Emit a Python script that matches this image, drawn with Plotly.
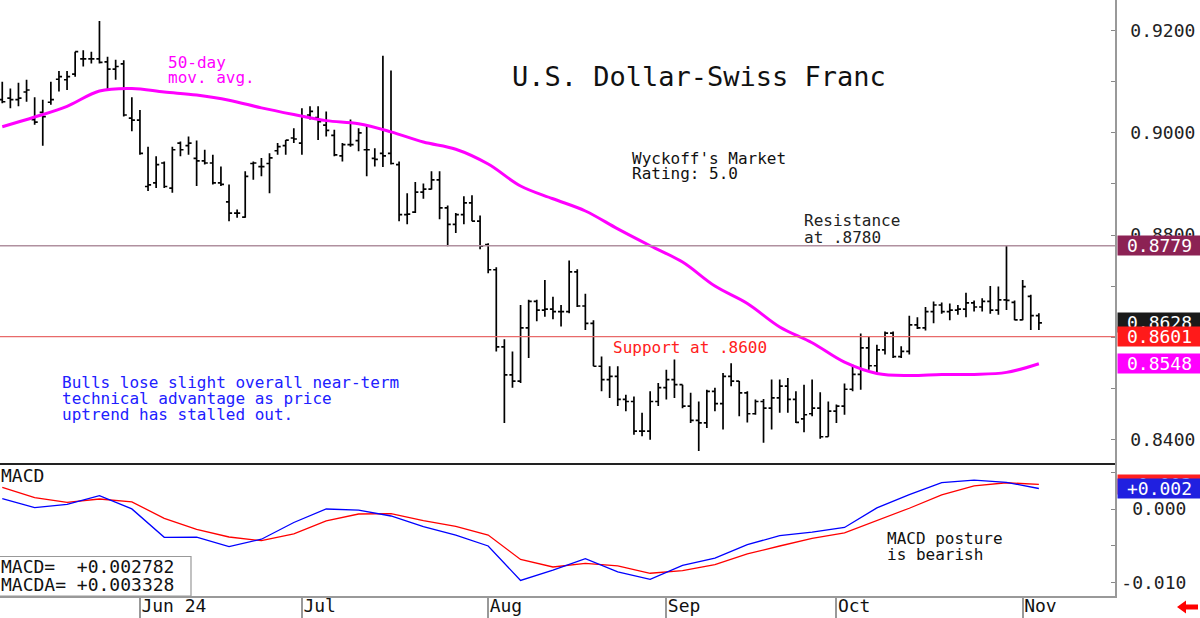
import plotly.graph_objects as go
import pandas as pd
import math

MONO = "DejaVu Sans Mono"

# ---------------- data ----------------
dates = pd.bdate_range("2024-05-09", periods=129)

opens = [0.9065, 0.9068, 0.9065, 0.9080, 0.9026, 0.9040, 0.9060, 0.9105, 0.9104, 0.9115,
         0.9145, 0.9145, 0.9145, 0.9139, 0.9125, 0.9135, 0.9029, 0.9025, 0.8895, 0.8902,
         0.8941, 0.8892, 0.8980, 0.8975, 0.8950, 0.8945, 0.8941, 0.8902, 0.8865, 0.8843,
         0.8835, 0.8940, 0.8934, 0.8940, 0.8965, 0.8975, 0.8990, 0.8980, 0.9035, 0.9030,
         0.9015, 0.8995, 0.8955, 0.8977, 0.8985, 0.8967, 0.8950, 0.8960, 0.8960, 0.8938,
         0.8840, 0.8845, 0.8884, 0.8890, 0.8908, 0.8853, 0.8821, 0.8840, 0.8863, 0.8827,
         0.8781, 0.8732, 0.8581, 0.8526, 0.8514, 0.8618, 0.8670, 0.8653, 0.8655, 0.8650,
         0.8650, 0.8728, 0.8661, 0.8627, 0.8543, 0.8517, 0.8523, 0.8478, 0.8474, 0.8416,
         0.8416, 0.8474, 0.8501, 0.8517, 0.8507, 0.8465, 0.8437, 0.8432, 0.8494, 0.8470,
         0.8523, 0.8514, 0.8491, 0.8450, 0.8474, 0.8461, 0.8481, 0.8504, 0.8478, 0.8440,
         0.8450, 0.8461, 0.8405, 0.8455, 0.8465, 0.8498, 0.8527, 0.8579, 0.8544, 0.8575,
         0.8608, 0.8562, 0.8572, 0.8624, 0.8618, 0.8650, 0.8663, 0.8650, 0.8653, 0.8655,
         0.8667, 0.8659, 0.8670, 0.8653, 0.8673, 0.8668, 0.8634, 0.8680, 0.8642]
highs = [0.9100, 0.9087, 0.9098, 0.9104, 0.9070, 0.9065, 0.9100, 0.9121, 0.9121, 0.9159,
         0.9162, 0.9159, 0.9219, 0.9149, 0.9143, 0.9142, 0.9070, 0.9045, 0.8973, 0.8954,
         0.8944, 0.8973, 0.8983, 0.8993, 0.8985, 0.8967, 0.8957, 0.8934, 0.8899, 0.8850,
         0.8925, 0.8944, 0.8951, 0.8960, 0.8980, 0.8986, 0.9009, 0.9048, 0.9052, 0.9052,
         0.9042, 0.9006, 0.8980, 0.9026, 0.9009, 0.9014, 0.8970, 0.9151, 0.9122, 0.8944,
         0.8882, 0.8904, 0.8901, 0.8925, 0.8925, 0.8858, 0.8843, 0.8876, 0.8878, 0.8838,
         0.8784, 0.8737, 0.8596, 0.8572, 0.8663, 0.8673, 0.8673, 0.8712, 0.8679, 0.8663,
         0.8750, 0.8733, 0.8685, 0.8633, 0.8562, 0.8543, 0.8543, 0.8487, 0.8484, 0.8452,
         0.8494, 0.8510, 0.8536, 0.8556, 0.8507, 0.8491, 0.8474, 0.8497, 0.8501, 0.8530,
         0.8549, 0.8514, 0.8494, 0.8478, 0.8479, 0.8517, 0.8517, 0.8520, 0.8494, 0.8507,
         0.8517, 0.8492, 0.8474, 0.8468, 0.8509, 0.8546, 0.8607, 0.8601, 0.8585, 0.8611,
         0.8611, 0.8582, 0.8642, 0.8639, 0.8659, 0.8670, 0.8668, 0.8666, 0.8663, 0.8687,
         0.8672, 0.8676, 0.8700, 0.8699, 0.8779, 0.8672, 0.8712, 0.8683, 0.8647]
lows = [0.9058, 0.9048, 0.9052, 0.9061, 0.9016, 0.8975, 0.9055, 0.9081, 0.9084, 0.9110,
        0.9130, 0.9136, 0.9136, 0.9084, 0.9104, 0.9032, 0.9003, 0.8957, 0.8886, 0.8892,
        0.8892, 0.8883, 0.8954, 0.8957, 0.8896, 0.8938, 0.8899, 0.8896, 0.8827, 0.8834,
        0.8834, 0.8908, 0.8915, 0.8882, 0.8957, 0.8957, 0.8980, 0.8957, 0.9026, 0.8986,
        0.8993, 0.8954, 0.8944, 0.8973, 0.8964, 0.8915, 0.8934, 0.8933, 0.8938, 0.8827,
        0.8821, 0.8843, 0.8871, 0.8889, 0.8831, 0.8778, 0.8804, 0.8821, 0.8827, 0.8772,
        0.8725, 0.8572, 0.8432, 0.8501, 0.8510, 0.8559, 0.8631, 0.8640, 0.8635, 0.8621,
        0.8647, 0.8659, 0.8614, 0.8543, 0.8494, 0.8481, 0.8465, 0.8455, 0.8409, 0.8406,
        0.8399, 0.8465, 0.8478, 0.8481, 0.8461, 0.8432, 0.8377, 0.8422, 0.8455, 0.8419,
        0.8504, 0.8445, 0.8433, 0.8448, 0.8393, 0.8419, 0.8452, 0.8452, 0.8432, 0.8414,
        0.8445, 0.8401, 0.8405, 0.8432, 0.8448, 0.8494, 0.8497, 0.8536, 0.8530, 0.8566,
        0.8559, 0.8559, 0.8566, 0.8616, 0.8613, 0.8627, 0.8646, 0.8633, 0.8644, 0.8639,
        0.8650, 0.8650, 0.8646, 0.8644, 0.8653, 0.8633, 0.8633, 0.8614, 0.8614]
closes = [0.9061, 0.9065, 0.9068, 0.9084, 0.9021, 0.9032, 0.9065, 0.9110, 0.9110, 0.9159,
          0.9145, 0.9145, 0.9138, 0.9125, 0.9130, 0.9035, 0.9025, 0.8960, 0.8898, 0.8938,
          0.8895, 0.8967, 0.8967, 0.8980, 0.8945, 0.8941, 0.8902, 0.8899, 0.8843, 0.8843,
          0.8915, 0.8941, 0.8934, 0.8951, 0.8973, 0.8986, 0.8988, 0.9032, 0.9042, 0.9022,
          0.9005, 0.8957, 0.8977, 0.8977, 0.9000, 0.8967, 0.8948, 0.8955, 0.8940, 0.8840,
          0.8841, 0.8884, 0.8890, 0.8908, 0.8853, 0.8821, 0.8840, 0.8863, 0.8827, 0.8778,
          0.8732, 0.8581, 0.8526, 0.8514, 0.8618, 0.8670, 0.8653, 0.8655, 0.8650, 0.8650,
          0.8728, 0.8661, 0.8627, 0.8543, 0.8517, 0.8523, 0.8478, 0.8474, 0.8416, 0.8416,
          0.8474, 0.8501, 0.8517, 0.8507, 0.8465, 0.8437, 0.8432, 0.8494, 0.8470, 0.8523,
          0.8514, 0.8491, 0.8450, 0.8474, 0.8461, 0.8481, 0.8504, 0.8478, 0.8433, 0.8448,
          0.8461, 0.8405, 0.8455, 0.8465, 0.8498, 0.8527, 0.8579, 0.8544, 0.8575, 0.8608,
          0.8562, 0.8572, 0.8624, 0.8618, 0.8650, 0.8663, 0.8650, 0.8653, 0.8655, 0.8667,
          0.8659, 0.8670, 0.8653, 0.8673, 0.8672, 0.8634, 0.8699, 0.8642, 0.8628]

# 50-day moving average, MACD and its signal line, read every 4th session
ma50 = [0.9012, 0.9031, 0.9052, 0.9082, 0.9087, 0.9080, 0.9074, 0.9064, 0.9049, 0.9036,
        0.9024, 0.9018, 0.9002, 0.8982, 0.8968, 0.8939, 0.8896, 0.8871, 0.8847, 0.8812,
        0.8779, 0.8747, 0.8700, 0.8666, 0.8620, 0.8589, 0.8551, 0.8529, 0.8525, 0.8527,
        0.8527, 0.8531, 0.8548]
macd = [0.00140, 0.00020, 0.00064, 0.00180, 0.00001, -0.00384, -0.00383, -0.00510, -0.00410,
        -0.00183, 0.00000, -0.00016, -0.00095, -0.00240, -0.00353, -0.00502, -0.00970,
        -0.00828, -0.00673, -0.00852, -0.00954, -0.00764, -0.00665, -0.00483, -0.00362,
        -0.00315, -0.00251, 0.00016, 0.00195, 0.00358, 0.00393, 0.00361, 0.002782]
macda = [0.00293, 0.00155, 0.00091, 0.00136, 0.00096, -0.00126, -0.00276, -0.00380, -0.00430,
         -0.00338, -0.00162, -0.00068, -0.00064, -0.00159, -0.00236, -0.00353, -0.00684,
         -0.00787, -0.00737, -0.00772, -0.00872, -0.00836, -0.00756, -0.00609, -0.00502,
         -0.00399, -0.00323, -0.00152, 0.00010, 0.00193, 0.00313, 0.00356, 0.003328]

resistance_level = 0.8779
support_level = 0.8601
price_ticks = [0.84, 0.85, 0.86, 0.87, 0.88, 0.89, 0.90, 0.91, 0.92]
price_labels = ["0.8400", "", "", "", "0.8800", "", "0.9000", "", "0.9200"]
macd_ticks = [-0.010, -0.005, 0.000, 0.005]
macd_labels = ["-0.010", "", "\u00a00.000", ""]

# ---------------- positions ----------------
idx = list(range(len(dates)))
sample_idx = idx[::4]
month_idx = [i for i in idx if i > 0 and dates[i].month != dates[i - 1].month]
month_labels = [dates[i].strftime("%b") for i in month_idx]
month_labels[0] = month_labels[0] + " " + dates[month_idx[0]].strftime("%y")

PW, PH = 1115, 596
split = 132 / PH


def px(x):
    return x / PW


def py(y):
    return (PH - y) / PH


fig = go.Figure()
fig.add_trace(go.Ohlc(
    x=idx, open=opens, high=highs, low=lows, close=closes,
    increasing=dict(line=dict(color="black", width=1.7)),
    decreasing=dict(line=dict(color="black", width=1.7)),
    tickwidth=0.38, xaxis="x", yaxis="y", hoverinfo="skip"))
fig.add_trace(go.Scatter(x=sample_idx, y=ma50, mode="lines", xaxis="x", yaxis="y",
                         line=dict(color="#ff00ff", width=3, shape="spline"), hoverinfo="skip"))
fig.add_trace(go.Scatter(x=sample_idx, y=macda, mode="lines", xaxis="x", yaxis="y2",
                         line=dict(color="#ff0000", width=1.3), hoverinfo="skip"))
fig.add_trace(go.Scatter(x=sample_idx, y=macd, mode="lines", xaxis="x", yaxis="y2",
                         line=dict(color="#0000ff", width=1.3), hoverinfo="skip"))

yax_common = dict(side="right", anchor="x", ticks="inside", ticklen=4, tickcolor="#888",
                  showline=True, linecolor="#999", linewidth=1.5, showgrid=False,
                  zeroline=False, tickfont=dict(family=MONO, size=18, color="#222"),
                  fixedrange=True)

fig.update_layout(
    width=1200, height=618, margin=dict(l=0, r=85, t=0, b=22),
    paper_bgcolor="white", plot_bgcolor="white", showlegend=False,
    xaxis=dict(domain=[0, 1], anchor="y2", range=[-0.28, 137.4], tickmode="array",
               tickvals=month_idx, ticktext=month_labels, ticks="outside", ticklen=22,
               tickcolor="#999", tickwidth=1.5, ticklabelposition="outside right",
               ticklabelstandoff=-7, showline=True, linecolor="#999", linewidth=1.5,
               showgrid=False, zeroline=False, rangeslider=dict(visible=False),
               tickfont=dict(family=MONO, size=18, color="#111")),
    yaxis=dict(domain=[split, 1], range=[0.83516, 0.92602], tickmode="array",
               tickvals=price_ticks, ticktext=price_labels, ticklabelstandoff=10,
               **yax_common),
    yaxis2=dict(domain=[0, split], range=[-0.011805, 0.006106], tickmode="array",
                tickvals=macd_ticks, ticktext=macd_labels, ticklabelstandoff=1,
                **yax_common),
)

# support / resistance
fig.add_shape(type="line", xref="paper", x0=0, x1=1, yref="y", y0=resistance_level,
              y1=resistance_level, line=dict(color="#b0909f", width=1.3))
fig.add_shape(type="line", xref="paper", x0=0, x1=1, yref="y", y0=support_level,
              y1=support_level, line=dict(color="#e86a6a", width=1.3))
# panel separator
fig.add_shape(type="line", xref="paper", x0=0, x1=1, yref="paper", y0=split, y1=split,
              line=dict(color="#222", width=2))
# MACD legend box
fig.add_shape(type="rect", xref="paper", yref="paper", x0=-0.002, x1=px(191), y0=0,
              y1=py(556.5), line=dict(color="#999", width=1.2), fillcolor="white")


def txt(s, x, y, color="#111", size=16, anchor="left"):
    fig.add_annotation(text=s, x=px(x), y=py(y), xref="paper", yref="paper",
                       xanchor=anchor, yanchor="middle", showarrow=False,
                       font=dict(family=MONO, size=size, color=color))


txt("U.S. Dollar-Swiss Franc", 699, 77, "#111", 27, "center")
txt("50-day", 166, 62, "#ff00ff", 16)
txt("mov. avg.", 166, 78, "#ff00ff", 16)
txt("Wyckoff's Market", 630, 158, "#111", 16)
txt("Rating: 5.0", 630, 174, "#111", 16)
txt("Resistance", 802, 220, "#222", 16)
txt("at .8780", 802, 237, "#222", 16)
txt("Support at .8600", 611, 348, "#ff2020", 16)
txt("Bulls lose slight overall near-term", 60, 382.5, "#2020ff", 16)
txt("technical advantage as price", 60, 398.5, "#2020ff", 16)
txt("uptrend has stalled out.", 60, 414.5, "#2020ff", 16)
txt("MACD", -1, 475, "#111", 18)
txt("MACD posture", 885, 538, "#111", 16)
txt("is bearish", 885, 554, "#111", 16)
txt("MACD=\u00a0\u00a0" + "%+.6f" % macd[-1], -1, 566, "#111", 18)
txt("MACDA=\u00a0" + "%+.6f" % macda[-1], -1, 584, "#111", 18)


def box(label, yval, yref, bg):
    fig.add_annotation(text=label, x=1, xref="paper", xanchor="left", xshift=2,
                       y=yval, yref=yref, yanchor="middle", showarrow=False,
                       bgcolor=bg, borderpad=0, width=83, height=19, align="center",
                       font=dict(family=MONO, size=18, color="white"))


def trunc3(v):
    return "%+.3f" % (math.floor(v * 1000) / 1000)


box("%.4f" % resistance_level, resistance_level, "y", "#8c2254")
box("%.4f" % closes[-1], closes[-1], "y", "#1a1a1a")
box("%.4f" % support_level, support_level, "y", "#ff1a1a")
box("%.4f" % ma50[-1], ma50[-1], "y", "#ff00ff")
box(trunc3(macda[-1]), macda[-1], "y2", "#ff2020")
box(trunc3(macd[-1]), macd[-1], "y2", "#2020e0")


def pp(x, y):
    return "%.5f,%.5f" % (px(x), py(y))


arrow = ("M" + pp(1177, 607) + " L" + pp(1186, 600.5) + " L" + pp(1186, 604.5) +
         " L" + pp(1198, 604.5) + " L" + pp(1198, 609.5) + " L" + pp(1186, 609.5) +
         " L" + pp(1186, 613.5) + " Z")
fig.add_shape(type="path", path=arrow, xref="paper", yref="paper",
              fillcolor="#ff0000", line=dict(width=0))

fig.write_html("out.html")
